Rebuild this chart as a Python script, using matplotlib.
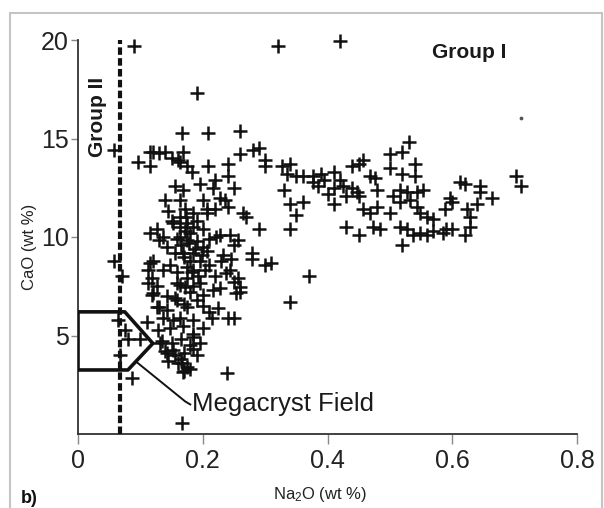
import matplotlib
matplotlib.use("Agg")
import matplotlib.pyplot as plt
from matplotlib.patches import Rectangle, Polygon

plt.rcParams['font.family'] = ['Liberation Sans', 'DejaVu Sans']
plt.rcParams['mathtext.fontset'] = 'custom'
plt.rcParams['mathtext.rm'] = 'Liberation Sans'
plt.rcParams['mathtext.it'] = 'Liberation Sans'

# Na2O (wt %) and CaO (wt %)
na2o = [0.09, 0.32, 0.42, 0.19, 0.058,
        0.096, 0.115, 0.12, 0.13, 0.14, 0.15, 0.16, 0.167, 0.168, 0.163, 0.175, 0.182, 0.115, 0.14, 0.168, 0.163,
        0.209, 0.26, 0.26, 0.28, 0.29, 0.30, 0.30, 0.327, 0.34, 0.35, 0.36, 0.377, 0.377, 0.209, 0.24, 0.24, 0.22,
        0.217, 0.25, 0.33, 0.34, 0.36, 0.35, 0.235, 0.24, 0.2, 0.207, 0.22, 0.265,
        0.228, 0.27, 0.29, 0.34, 0.163, 0.171, 0.185, 0.207, 0.126, 0.137, 0.175, 0.222, 0.244, 0.257, 0.335,
        0.53, 0.52, 0.50, 0.54, 0.50, 0.52, 0.54, 0.457, 0.45, 0.44, 0.41, 0.42, 0.41, 0.425, 0.44, 0.447, 0.41,
        0.43, 0.45, 0.468, 0.476, 0.48, 0.516, 0.527, 0.543, 0.553, 0.505, 0.516, 0.532, 0.543, 0.548, 0.559,
        0.569, 0.457, 0.468, 0.48, 0.50, 0.43, 0.45, 0.473, 0.484, 0.516, 0.527, 0.537, 0.548, 0.559, 0.569, 0.52,
        0.703, 0.71, 0.612, 0.62, 0.644, 0.644, 0.663, 0.596, 0.60, 0.64, 0.623, 0.588, 0.628, 0.628, 0.62, 0.60,
        0.585, 0.59,
        0.279, 0.279, 0.30, 0.31, 0.37, 0.34, 0.24, 0.25, 0.2, 0.244, 0.257, 0.26, 0.25, 0.228, 0.217, 0.2, 0.204,
        0.25, 0.228, 0.207, 0.233,
        0.057, 0.07, 0.115, 0.13, 0.142, 0.153, 0.163, 0.175, 0.185, 0.163, 0.12, 0.112, 0.118, 0.126, 0.118,
        0.137, 0.147, 0.158, 0.163, 0.175, 0.185, 0.18, 0.168, 0.142, 0.158, 0.175, 0.13, 0.137, 0.153, 0.168,
        0.185, 0.185, 0.128, 0.11,
        0.115, 0.113, 0.12, 0.126, 0.142, 0.158, 0.171, 0.185, 0.196, 0.238, 0.26, 0.254, 0.163, 0.185, 0.147,
        0.131, 0.152, 0.167, 0.168, 0.142, 0.239, 0.166,
        0.064, 0.075, 0.067, 0.086, 0.1, 0.08,
        0.135, 0.15, 0.165, 0.18, 0.14, 0.155, 0.17, 0.185, 0.145, 0.16, 0.175, 0.17, 0.18, 0.165, 0.195, 0.19,
        0.18, 0.19, 0.2, 0.185, 0.17, 0.195, 0.21, 0.175, 0.19, 0.2, 0.165, 0.21, 0.155, 0.18, 0.19, 0.2, 0.21,
        0.17, 0.155, 0.215, 0.225, 0.23, 0.245, 0.22, 0.15, 0.145, 0.195, 0.155,
        0.178, 0.188, 0.172, 0.198, 0.183, 0.158, 0.173, 0.192, 0.39, 0.395, 0.385, 0.4]
cao = [19.7, 19.7, 19.95, 17.3, 14.4,
       13.8, 14.3, 14.3, 14.25, 14.3, 14.0, 13.9, 15.3, 14.3, 13.8, 13.6, 13.3, 13.6, 11.9, 12.4, 11.9,
       15.3, 15.4, 14.2, 14.4, 14.5, 13.9, 13.6, 13.6, 13.7, 13.1, 13.1, 13.1, 12.8, 13.6, 13.7, 13.1, 12.9,
       12.5, 12.5, 12.4, 11.7, 11.8, 11.1, 11.9, 11.5, 11.9, 11.4, 11.4, 11.2,
       12.0, 11.0, 10.4, 10.4, 11.0, 11.4, 11.2, 11.2, 10.4, 10.0, 9.85, 10.0, 10.1, 9.85, 13.2,
       14.8, 14.3, 14.2, 13.7, 13.5, 13.2, 13.1, 13.9, 13.7, 13.6, 13.3, 12.9, 12.5, 12.6, 12.5, 12.3, 11.7,
       12.1, 12.1, 13.1, 13.0, 12.4, 12.4, 12.3, 12.3, 12.4, 12.1, 11.8, 11.9, 11.5, 11.2, 11.0,
       10.9, 11.4, 11.2, 11.5, 11.2, 10.5, 10.1, 10.5, 10.4, 10.5, 10.4, 10.1, 10.2, 10.1, 10.3, 9.6,
       13.1, 12.6, 12.8, 12.7, 12.6, 12.3, 12.0, 12.0, 11.8, 11.7, 11.4, 11.4, 11.0, 10.5, 10.1, 10.4,
       10.2, 10.4,
       9.2, 8.9, 8.6, 8.7, 8.0, 6.7, 5.9, 5.9, 5.4, 8.3, 7.9, 7.2, 7.7, 7.4, 7.3, 7.05, 8.3,
       9.6, 10.1, 9.3, 9.1,
       8.8, 8.0, 10.2, 9.85, 9.5, 10.7, 10.5, 10.7, 10.5, 10.0, 8.8, 8.3, 7.9, 7.5, 7.05,
       8.3, 8.6, 8.2, 7.55, 7.9, 7.5, 8.8, 9.2, 7.0, 6.8, 6.45, 6.45, 5.9, 5.8, 5.5,
       5.8, 5.1, 5.3, 5.7,
       8.7, 7.65, 7.15, 6.45, 6.3, 7.65, 7.45, 8.3, 7.65, 8.15, 7.45, 7.15, 5.9, 4.9, 5.4,
       4.6, 4.25, 3.6, 3.15, 4.1, 3.1, 0.55,
       5.8, 5.3, 4.0, 2.85, 4.8, 4.8,
       4.7, 4.6, 4.8, 4.5, 4.2, 4.0, 4.1, 4.3, 3.7, 3.6, 3.4, 3.2, 3.3, 3.8, 4.6, 4.0,
       10.2, 9.8, 9.5, 9.2, 9.0, 8.8, 8.6, 8.5, 10.8, 10.4, 9.6, 9.9, 9.2, 7.2, 6.8, 6.5, 6.2,
       6.6, 6.9, 5.9, 6.4, 8.8, 8.9, 8.0, 10.8, 11.3, 12.7, 12.6,
       9.7, 9.4, 10.3, 9.1, 8.2, 9.9, 11.0, 8.0, 13.2, 12.9, 12.6, 12.2]

# megacryst field outline
field_x = [0, 0.075, 0.12, 0.08, 0]
field_y = [6.2, 6.2, 4.6, 3.25, 3.25]
group_line = 0.068

xticks = [0, 0.2, 0.4, 0.6, 0.8]
xlabels = ['0', '0.2', '0.4', '0.6', '0.8']
yticks = [5, 10, 15, 20]
ylabels = ['5', '10', '15', '20']

fig = plt.figure(figsize=(6.04, 5.08), dpi=100)
ax = fig.add_axes([78/604, 1 - 434/508, 499/604, 394/508])

ax.scatter(na2o, cao, marker='+', s=115, linewidths=1.8, color='#111111', clip_on=False, zorder=3)
ax.scatter([0.71], [16.05], s=3, color='#555555')

ax.plot([group_line, group_line], [0, 20], color='#111111', lw=3, linestyle=(0, (1.8, 0.8)), zorder=4)
ax.add_patch(Polygon(list(zip(field_x, field_y)), closed=True, fill=False,
                     edgecolor='#111111', lw=2.6, joinstyle='round', zorder=4))
ax.plot([0.094, 0.172, 0.18], [3.65, 1.65, 1.5], color='#111111', lw=1.4, zorder=4)
ax.text(0.183, 1.5, 'Megacryst Field', fontsize=18.5, va='center', ha='left', color='#1a1a1a')

ax.text(0.567, 19.35, 'Group I', fontsize=15, fontweight='bold', va='center', ha='left', color='#1a1a1a')
ax.text(0.031, 16.1, 'Group II', fontsize=15, fontweight='bold', rotation=90,
        va='center', ha='center', color='#1a1a1a')

ax.set_xlim(0, 0.8)
ax.set_ylim(0, 20)
ax.set_xticks(xticks)
ax.set_xticklabels(xlabels)
ax.set_yticks(yticks)
ax.set_yticklabels(ylabels)
ax.spines['top'].set_visible(False)
ax.spines['right'].set_visible(False)
for s in ['left', 'bottom']:
    ax.spines[s].set_linewidth(1.3)
    ax.spines[s].set_color('#333333')
ax.tick_params(axis='x', length=7, width=1, color='#888888', labelsize=18, pad=4, labelcolor='#222222')
ax.tick_params(axis='y', length=5, width=1, color='#888888', labelsize=18, pad=1.5, labelcolor='#222222')

fig.text(30/604, 1 - 247/508, 'CaO (wt %)', rotation=90, fontsize=12, ha='center', va='center', color='#222222')
fig.text(320/604, 1 - 495/508, 'Na$_2$O (wt %)', fontsize=12, ha='center', va='center', color='#222222')
fig.text(21/604, 1 - 503/508, 'b)', fontsize=13, fontweight='bold', ha='left', va='baseline', color='#111111')

fig.add_artist(Rectangle((10/604, -0.02), 592/604, 1 - 13/508 + 0.02, transform=fig.transFigure,
                         fill=False, edgecolor='#c4c4c4', lw=1.5))

fig.savefig('out.png', dpi=100)
